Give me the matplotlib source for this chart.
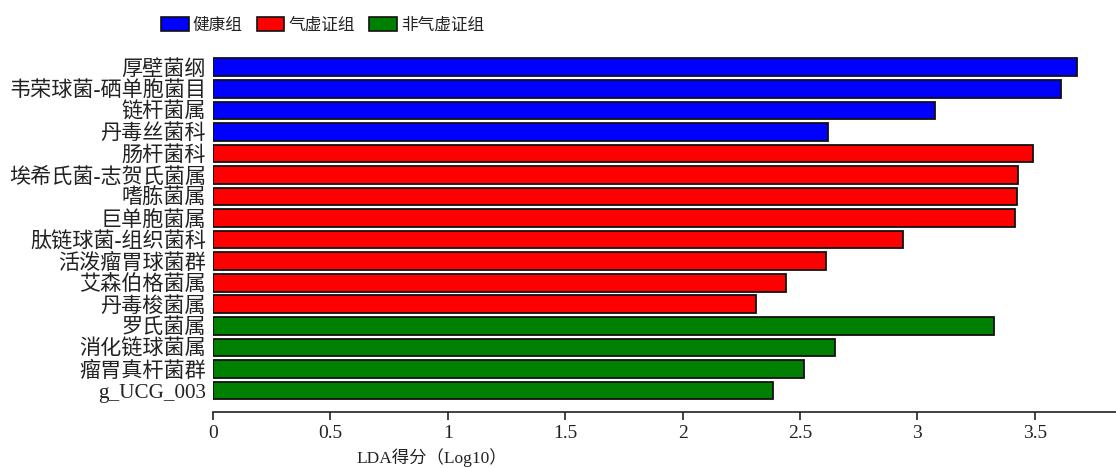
import matplotlib
matplotlib.use("Agg")
import matplotlib.pyplot as plt
from matplotlib.patches import Patch

plt.rcParams['font.family'] = ['Liberation Serif', 'Noto Sans CJK SC', 'DejaVu Sans']

# LEfSe LDA scores, listed top to bottom
taxa = ["厚壁菌纲", "韦荣球菌-硒单胞菌目", "链杆菌属", "丹毒丝菌科",
        "肠杆菌科", "埃希氏菌-志贺氏菌属", "嗜胨菌属", "巨单胞菌属",
        "肽链球菌-组织菌科", "活泼瘤胃球菌群", "艾森伯格菌属", "丹毒梭菌属",
        "罗氏菌属", "消化链球菌属", "瘤胃真杆菌群", "g_UCG_003"]
lda = [3.678, 3.612, 3.074, 2.619,
       3.494, 3.430, 3.424, 3.416,
       2.937, 2.611, 2.442, 2.311,
       3.325, 2.650, 2.518, 2.384]
group = ["健康组"] * 4 + ["气虚证组"] * 8 + ["非气虚证组"] * 4

groups = ["健康组", "气虚证组", "非气虚证组"]
group_colors = {"健康组": "#0000FF", "气虚证组": "#FF0000", "非气虚证组": "#008000"}

xticks = [0, 0.5, 1, 1.5, 2, 2.5, 3, 3.5]
xtick_labels = ["0", "0.5", "1", "1.5", "2", "2.5", "3", "3.5"]

fig = plt.figure(figsize=(11.16, 4.68), dpi=100)
ax = fig.add_axes([213 / 1116, 1 - 412.3 / 468, 1 - 213 / 1116, (412.3 - 54.3) / 468])

n = len(taxa)
ypos = list(range(n - 1, -1, -1))
ax.barh(ypos, lda, height=0.82,
        color=[group_colors[g] for g in group],
        edgecolor="#111111", linewidth=1.3, zorder=2)

ax.set_xlim(0, 3.846)
ax.set_ylim(-1.01, n - 1 + 0.6)

ax.set_yticks(ypos)
ax.set_yticklabels(taxa, fontsize=15.2, color="#222222")
ax.tick_params(axis="y", length=0, pad=5)

ax.set_xticks(xticks)
ax.set_xticklabels(xtick_labels, fontsize=14, color="#222222")
ax.tick_params(axis="x", direction="out", length=6, width=1.2, pad=3, color="#222222")

for s in ["top", "right", "left"]:
    ax.spines[s].set_visible(False)
ax.spines["bottom"].set_linewidth(1.2)
ax.spines["bottom"].set_color("#222222")

ax.set_xlabel("LDA得分（Log10）", fontsize=12.5, color="#222222")
ax.xaxis.set_label_coords((432 - 213) / 903, -0.1)
ax.xaxis.label.set_verticalalignment("top")

handles = [Patch(facecolor=group_colors[g], edgecolor="#111111", linewidth=1.2, label=g)
           for g in groups]
leg = fig.legend(handles=handles, loc="upper left", ncol=3,
                 bbox_to_anchor=(146 / 1116, 1 - 2 / 468),
                 frameon=False, handlelength=1.65, handleheight=0.9,
                 handletextpad=0.25, columnspacing=0.85,
                 prop={"family": ["Noto Sans CJK SC"], "size": 12})
for t in leg.get_texts():
    t.set_color("#222222")

fig.savefig("out.png", dpi=100)
